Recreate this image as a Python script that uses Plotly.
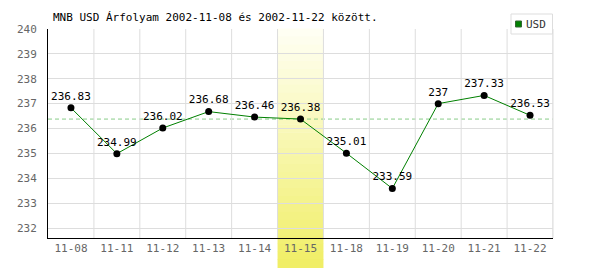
import plotly.graph_objects as go

dates = ["11-08", "11-11", "11-12", "11-13", "11-14", "11-15", "11-18", "11-19", "11-20", "11-21", "11-22"]
usd = [236.83, 234.99, 236.02, 236.68, 236.46, 236.38, 235.01, 233.59, 237.0, 237.33, 236.53]
labels = ["236.83", "234.99", "236.02", "236.68", "236.46", "236.38", "235.01", "233.59", "237", "237.33", "236.53"]
series_name = "USD"
highlight_idx = 5
ref_value = usd[highlight_idx]
y_ticks = [232, 233, 234, 235, 236, 237, 238, 239, 240]

FONT = "DejaVu Sans Mono"
xs = list(range(len(dates)))
W, H = 600, 270
L, R, T, B = 48, 47, 29, 32
PW, PH = W - L - R, H - T - B


def px(x):
    return (x - L) / PW


def py(y):
    return (H - B - y) / PH


fig = go.Figure()
fig.add_trace(go.Scatter(
    x=xs, y=usd, mode="lines+markers+text", text=labels,
    textposition="top center", textfont=dict(family=FONT, size=11, color="#000000"),
    line=dict(color="#008000", width=1),
    marker=dict(color="#000000", size=7),
    showlegend=False, cliponaxis=False,
))

# gradient highlight band
n = 30
top_y, bot_y = 1.0, py(268)
c0 = (255, 255, 245)
c1 = (240, 238, 100)
for i in range(n):
    f = (i + 0.5) / n
    col = tuple(int(round(c0[k] + (c1[k] - c0[k]) * f)) for k in range(3))
    y_a = top_y + (bot_y - top_y) * i / n
    y_b = top_y + (bot_y - top_y) * (i + 1) / n
    fig.add_shape(type="rect", xref="x", yref="paper",
                  x0=highlight_idx - 0.5, x1=highlight_idx + 0.5, y0=y_b, y1=y_a + 0.002,
                  fillcolor="rgb(%d,%d,%d)" % col, line=dict(width=0), layer="between")

fig.add_shape(type="line", xref="paper", yref="y", x0=0, x1=1, y0=ref_value, y1=ref_value,
              line=dict(color="#88cc88", width=1, dash="4px,3px"), layer="between")

# vertical grid lines between categories
for i in range(len(dates)):
    fig.add_shape(type="line", xref="x", yref="paper", x0=i + 0.5, x1=i + 0.5, y0=0, y1=1,
                  line=dict(color="#dddddd", width=1), layer="below")
fig.add_shape(type="line", xref="paper", yref="paper", x0=1, x1=1, y0=0, y1=1,
              line=dict(color="#dddddd", width=1), layer="between")

# legend box drawn manually
fig.add_shape(type="rect", xref="paper", yref="paper",
              x0=px(511), x1=px(552.5), y0=py(34), y1=py(14),
              fillcolor="#ffffff", line=dict(color="#dddddd", width=1), layer="above")
fig.add_shape(type="rect", xref="paper", yref="paper",
              x0=px(515.5), x1=px(521.5), y0=py(27), y1=py(21),
              fillcolor="#008000", line=dict(color="#336633", width=1), layer="above")
fig.add_annotation(text=series_name, xref="paper", yref="paper", x=px(524), y=py(24.5),
                   xanchor="left", yanchor="middle", showarrow=False,
                   font=dict(family=FONT, size=11, color="#333333"))

fig.update_layout(
    width=W, height=H,
    margin=dict(l=L, r=R, t=T, b=B),
    paper_bgcolor="#ffffff", plot_bgcolor="#ffffff",
    font=dict(family=FONT, size=11, color="#666666"),
    showlegend=False,
    title=dict(text="MNB USD Árfolyam 2002-11-08 és 2002-11-22 között.",
               x=53 / W, xanchor="left", y=1 - 17 / H, yanchor="middle",
               font=dict(family=FONT, size=11, color="#000000")),
    xaxis=dict(range=[-0.5, len(dates) - 0.5], tickvals=xs, ticktext=dates,
               showgrid=False, showline=True, linecolor="#000000", linewidth=1,
               ticks="", mirror=False, zeroline=False,
               tickfont=dict(family=FONT, size=11, color="#666666")),
    yaxis=dict(range=[231.6, 240], tickvals=y_ticks, showgrid=True, gridcolor="#dddddd",
               showline=True, linecolor="#000000", linewidth=1, ticks="", zeroline=False,
               ticklabelstandoff=8,
               tickfont=dict(family=FONT, size=11, color="#666666")),
)

fig.write_html("out.html")
